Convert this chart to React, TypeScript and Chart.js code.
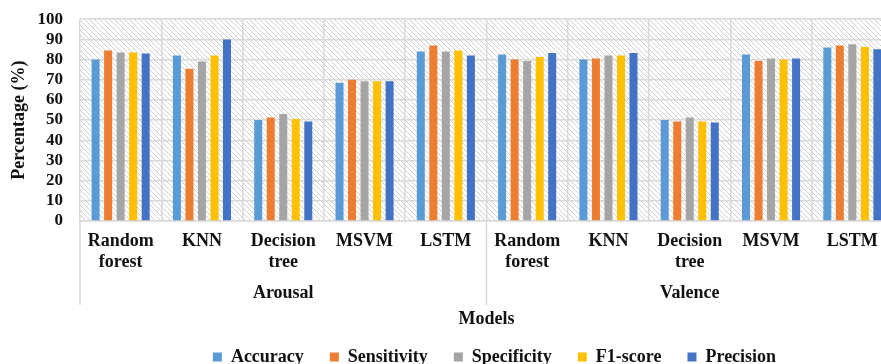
import React, { useEffect, useRef } from "react";
import { Chart, registerables } from "chart.js";

Chart.register(...registerables);

const modelLabels: string[][] = [
  ["Random", "forest"], ["KNN"], ["Decision", "tree"], ["MSVM"], ["LSTM"],
  ["Random", "forest"], ["KNN"], ["Decision", "tree"], ["MSVM"], ["LSTM"],
];
const groupLabels = ["Arousal", "Valence"];
const yTicks = [0, 10, 20, 30, 40, 50, 60, 70, 80, 90, 100];

const accuracy = [80, 82, 50, 68.5, 84, 82.5, 80, 50, 82.5, 86];
const sensitivity = [84.5, 75.5, 51.3, 70, 87, 80, 80.5, 49.3, 79.3, 87];
const specificity = [83.5, 79, 53, 69.2, 84, 79.3, 82, 51.3, 80.5, 87.6];
const f1Score = [83.5, 82, 50.5, 69.2, 84.5, 81.3, 82, 49.3, 80, 86.2];
const precision = [83, 90, 49.3, 69.2, 82, 83.3, 83.3, 48.8, 80.5, 85.1];

const seriesNames = ["Accuracy", "Sensitivity", "Specificity", "F1-score", "Precision"];
const seriesColors = ["#5B9BD5", "#ED7D31", "#A5A5A5", "#FFC000", "#4472C4"];

const SERIF = "'Liberation Serif', 'Times New Roman', serif";
const GRID = "#d9d9d9";
const LEGEND_NUDGE = 8;

function makeHatch(): CanvasPattern | string {
  const s = 5;
  const tile = document.createElement("canvas");
  tile.width = s;
  tile.height = s;
  const c = tile.getContext("2d");
  if (!c) return "#fff";
  c.fillStyle = "#ffffff";
  c.fillRect(0, 0, s, s);
  c.strokeStyle = "rgba(170,170,170,0.55)";
  c.lineWidth = 1;
  c.beginPath();
  c.moveTo(-1, -1);
  c.lineTo(s + 1, s + 1);
  c.moveTo(-1, s - 1);
  c.lineTo(1, s + 1);
  c.moveTo(s - 1, -1);
  c.lineTo(s + 1, 1);
  c.stroke();
  const p = c.createPattern(tile, "repeat");
  return p || "#fff";
}

export default function App() {
  const ref = useRef<HTMLCanvasElement | null>(null);

  useEffect(() => {
    if (!ref.current) return;
    const hatch = makeHatch();

    // hatched plot background
    const backdrop = {
      id: "backdrop",
      beforeDraw(chart: any) {
        const { ctx, chartArea: a } = chart;
        ctx.save();
        ctx.fillStyle = hatch;
        ctx.fillRect(a.left, a.top, a.right - a.left, a.bottom - a.top);
        ctx.restore();
      },
    };

    // legend sits a little right of the plot centre
    const legendNudge = {
      id: "legendNudge",
      afterLayout(chart: any) {
        const l = chart.legend;
        if (!l) return;
        l.left += LEGEND_NUDGE;
        l.right += LEGEND_NUDGE;
      },
    };

    // separators between the Arousal / Valence groups, reaching under the labels
    const groupLines = {
      id: "groupLines",
      afterDraw(chart: any) {
        const { ctx, chartArea: a } = chart;
        const x = chart.scales.x;
        const mid = (x.getPixelForValue(4) + x.getPixelForValue(5)) / 2;
        const bottom = chart.scales.x2.top + 33;
        ctx.save();
        ctx.strokeStyle = GRID;
        ctx.lineWidth = 1.5;
        ctx.beginPath();
        for (const px of [a.left, mid, a.right]) {
          ctx.moveTo(px, a.bottom);
          ctx.lineTo(px, bottom);
        }
        ctx.stroke();
        ctx.restore();
      },
    };

    const series = [accuracy, sensitivity, specificity, f1Score, precision];

    const chart = new Chart(ref.current, {
      type: "bar",
      data: {
        labels: modelLabels as any,
        datasets: series.map((values, i) => ({
          label: seriesNames[i],
          data: values,
          backgroundColor: seriesColors[i],
          borderWidth: 0,
          categoryPercentage: 0.77,
          barPercentage: 0.64,
        })),
      },
      options: {
        animation: false,
        responsive: false,
        maintainAspectRatio: false,
        layout: { padding: { left: 0, right: 7, top: 5, bottom: 0 } },
        plugins: {
          tooltip: { enabled: false },
          legend: {
            position: "bottom",
            fullSize: false,
            maxHeight: 42,
            labels: {
              boxWidth: 9,
              boxHeight: 9,
              padding: 26,
              color: "#111",
              font: { family: SERIF, size: 18, weight: "bold" },
            },
          },
        },
        scales: {
          x: {
            type: "category",
            position: "bottom",
            weight: 1,
            offset: true,
            afterFit(scale: any) {
              scale.height = 51;
            },
            grid: { display: true, offset: true, color: GRID, lineWidth: 1.5, drawTicks: false },
            border: { display: true, color: GRID, width: 1.5 },
            ticks: {
              autoSkip: false,
              maxRotation: 0,
              padding: 10,
              color: "#111",
              font: { family: SERIF, size: 18, weight: "bold", lineHeight: 1.15 },
            },
          },
          x2: {
            type: "category",
            position: "bottom",
            weight: 2,
            labels: groupLabels,
            offset: true,
            afterFit(scale: any) {
              scale.height = 50;
            },
            grid: { display: false, drawTicks: false },
            border: { display: false },
            ticks: {
              padding: 11,
              color: "#111",
              font: { family: SERIF, size: 18, weight: "bold", lineHeight: 1.15 },
            },
            title: {
              display: true,
              text: "Models",
              color: "#111",
              padding: { top: 0, bottom: -8 },
              font: { family: SERIF, size: 18, weight: "bold", lineHeight: 1.2 },
            },
          },
          y: {
            min: 0,
            max: 100,
            afterFit(scale: any) {
              scale.width = 80;
            },
            afterBuildTicks(scale: any) {
              scale.ticks = yTicks.map((v) => ({ value: v }));
            },
            grid: {
              color: GRID,
              lineWidth: 1.5,
              drawTicks: true,
              tickLength: 8,
              tickColor: "rgba(0,0,0,0)",
            },
            border: { display: false },
            ticks: {
              autoSkip: false,
              padding: 9,
              color: "#111",
              font: { family: SERIF, size: 17, weight: "bold" },
            },
            title: {
              display: true,
              text: "Percentage (%)",
              color: "#111",
              padding: { top: 9, bottom: 0 },
              font: { family: SERIF, size: 18, weight: "bold" },
            },
          },
        },
      } as any,
      plugins: [backdrop, legendNudge, groupLines],
    });

    return () => chart.destroy();
  }, []);

  return (
    <div
      style={{
        position: "fixed",
        left: 0,
        top: 0,
        width: 881,
        height: 364,
        overflow: "hidden",
        background: "#fff",
      }}
    >
      <canvas ref={ref} width={900} height={364} style={{ display: "block", width: 900, height: 364 }} />
    </div>
  );
}
